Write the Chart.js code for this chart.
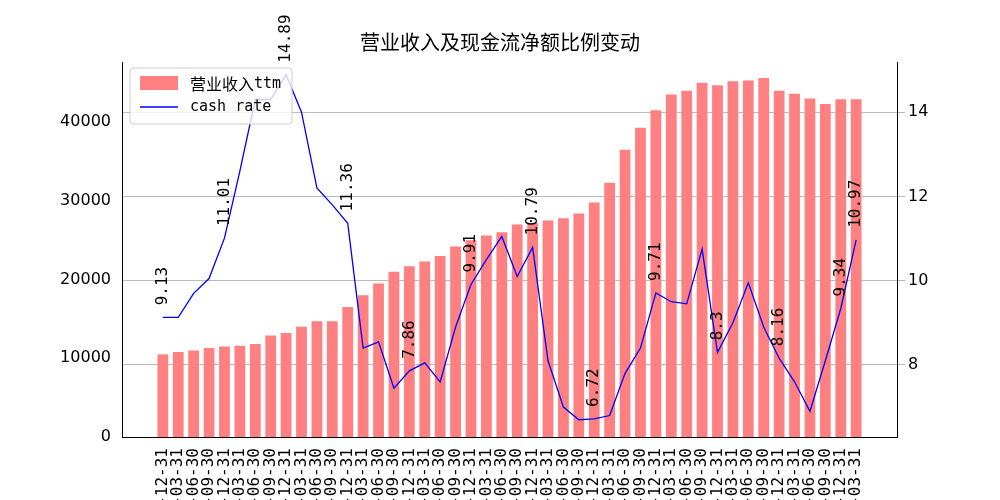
<!DOCTYPE html><html><head><script src="https://cdn.jsdelivr.net/npm/chart.js@4"></script>
<style>body{margin:0}#w{width:1000px;height:500px}</style></head><body><div id="w"><canvas id="c"></canvas></div>
<script>
const categories=(()=>{const a=[];const q=['03-31','06-30','09-30','12-31'];a.push('2013-12-31');for(let y=2014;y<=2024;y++)for(const s of q)a.push(y+'-'+s);a.push('2025-03-31');return a;})();
const revenue=[10500,10800,11000,11300,11500,11600,11800,12900,13200,14000,14700,14700,16500,18000,19500,21000,21700,22300,23000,24200,25000,25600,26000,27000,27200,27500,27800,28400,29800,32300,36500,39300,41500,43500,44000,45000,44700,45200,45300,45600,44000,43600,43000,42300,42900,42900];
const cashRate=[9.13,9.13,9.7,10.05,11.01,12.6,14.3,14.3,14.89,14.0,12.2,11.8,11.36,8.4,8.55,7.45,7.86,8.05,7.6,8.9,9.91,10.5,11.05,10.1,10.79,8.1,7.0,6.7,6.72,6.8,7.8,8.4,9.71,9.5,9.45,10.75,8.3,9.0,9.95,8.9,8.16,7.6,6.9,8.1,9.34,10.97];
const F='"Noto Sans CJK SC","DejaVu Sans",sans-serif';
const M='"DejaVu Sans Mono",monospace';
const ann={id:'ann',afterDatasetsDraw(ch){const c=ch.ctx,m=ch.getDatasetMeta(1);c.save();c.font='16px '+M;c.fillStyle='#000';c.textBaseline='middle';
cashRate.forEach((v,i)=>{if(i%4&&i!==cashRate.length-1)return;const p=m.data[i];c.save();c.translate(p.x,p.y-12);c.rotate(-Math.PI/2);c.textAlign='left';c.fillText(String(v),0,0);c.restore();});
const a=ch.chartArea;c.fillStyle='rgba(255,255,255,0.8)';c.strokeStyle='#ccc';c.lineWidth=1;c.beginPath();c.roundRect(a.left+8,a.top+6,162,56,3);c.fill();c.stroke();
c.fillStyle='rgba(255,128,128,1)';c.fillRect(a.left+18,a.top+14,38,14);c.strokeStyle='blue';c.lineWidth=1.5;c.beginPath();c.moveTo(a.left+18,a.top+45);c.lineTo(a.left+56,a.top+45);c.stroke();
c.fillStyle='#000';c.font='16px '+F;c.textAlign='left';const w=c.measureText('营业收入').width;c.fillText('营业收入',a.left+68,a.top+22);c.font='15px '+M;c.fillText('ttm',a.left+68+w,a.top+22);c.fillText('cash rate',a.left+68,a.top+45);
c.restore();}};
const n=categories.length;
new Chart(document.getElementById('c'),{data:{datasets:[
{type:'bar',label:'营业收入ttm',data:revenue.map((v,i)=>({x:i,y:v})),backgroundColor:'rgba(255,128,128,1)',yAxisID:'y',categoryPercentage:1,barPercentage:0.7,order:2},
{type:'line',label:'cash rate',data:cashRate.map((v,i)=>({x:i,y:v})),borderColor:'blue',borderWidth:1.3,pointRadius:0,tension:0,yAxisID:'y1',order:1}]},
options:{responsive:true,maintainAspectRatio:false,animation:false,
plugins:{legend:{display:false},tooltip:{enabled:false},title:{display:true,text:'营业收入及现金流净额比例变动',font:{family:F,size:20,weight:'normal'},color:'#000',padding:{top:30,bottom:8}}},
scales:{x:{type:'linear',offset:false,min:-2.65,max:n-1+2.65,afterBuildTicks(s){s.ticks=categories.map((_,i)=>({value:i}))},grid:{display:false},border:{color:'#000'},ticks:{color:'#000',font:{family:M,size:16},maxRotation:90,minRotation:90,autoSkip:false,callback:v=>categories[v]},afterFit(s){s.height=63}},
y:{position:'left',min:0,max:47640,afterBuildTicks(s){s.ticks=[0,10000,20000,30000,40000].map(v=>({value:v}))},grid:{display:false},border:{color:'#000'},ticks:{color:'#000',font:{family:'"DejaVu Sans",sans-serif',size:16},callback:v=>String(v)},afterFit(s){s.width=122}},
y1:{position:'right',min:6.29,max:15.19,afterBuildTicks(s){s.ticks=[8,10,12,14].map(v=>({value:v}))},grid:{color:'#bbb'},border:{color:'#000'},ticks:{color:'#000',font:{family:'"DejaVu Sans",sans-serif',size:16}},afterFit(s){s.width=103}}}},
plugins:[ann]});
</script></body></html>
